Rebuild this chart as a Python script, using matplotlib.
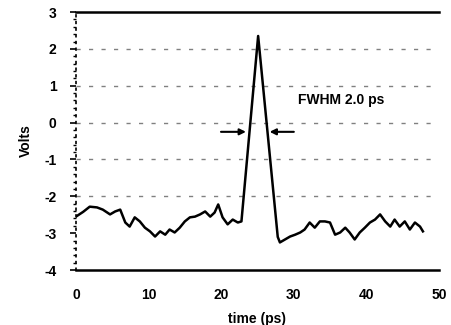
import numpy as np
import matplotlib.pyplot as plt
from matplotlib.ticker import MultipleLocator

# ============================================================================
# DATA
# ============================================================================

time_ps = [0.0, 1.0, 1.9, 2.9, 3.7, 4.7, 5.4, 6.1, 6.8, 7.4, 8.1, 8.8, 9.5,
           10.2, 10.9, 11.6, 12.3, 12.9, 13.6, 14.3, 15.0, 15.7, 16.4, 17.1,
           17.8, 18.5, 19.1, 19.6, 20.2, 20.9, 21.6, 22.3, 22.8, 25.1, 27.8,
           28.1, 28.8, 29.5, 30.2, 30.9, 31.5, 32.2, 32.9, 33.6, 34.3, 35.0,
           35.7, 36.4, 37.1, 37.7, 38.4, 39.1, 39.8, 40.5, 41.2, 41.9, 42.6,
           43.3, 43.9, 44.6, 45.3, 46.0, 46.7, 47.4, 47.8]
volts = [-2.55, -2.42, -2.28, -2.30, -2.36, -2.49, -2.41, -2.36, -2.71, -2.82,
         -2.57, -2.68, -2.85, -2.95, -3.09, -2.95, -3.04, -2.90, -2.98, -2.85,
         -2.68, -2.57, -2.55, -2.49, -2.41, -2.55, -2.44, -2.22, -2.57, -2.76,
         -2.63, -2.71, -2.68, 2.35, -3.10, -3.25, -3.17, -3.09, -3.04, -2.98,
         -2.90, -2.71, -2.85, -2.68, -2.68, -2.71, -3.04, -2.98, -2.85, -2.98,
         -3.17, -2.98, -2.85, -2.71, -2.63, -2.49, -2.68, -2.82, -2.63, -2.82,
         -2.68, -2.90, -2.71, -2.82, -2.95]

grid_levels = [2, 1, 0, -1, -2]
fwhm_level = -0.25
fwhm_left = (19.6, 23.8)
fwhm_right = (30.4, 26.3)

# ============================================================================
# PLOT
# ============================================================================

plt.rcParams['font.family'] = ['Liberation Sans', 'DejaVu Sans']
plt.rcParams['axes.unicode_minus'] = False

fig = plt.figure(figsize=(4.52, 3.25), dpi=100)
ax = fig.add_axes([0.168, 0.169, 0.803, 0.794])

for lvl in grid_levels:
    ax.axhline(lvl, color='0.5', linewidth=1.0, linestyle=(0, (3, 6)), zorder=1)

ax.plot(time_ps, volts, color='black', linewidth=1.8, zorder=3)

# FWHM arrows
arrow_kw = dict(arrowstyle='-|>', color='black', linewidth=1.5, mutation_scale=9)
ax.annotate('', xy=(fwhm_left[1], fwhm_level), xytext=(fwhm_left[0], fwhm_level),
            arrowprops=arrow_kw)
ax.annotate('', xy=(fwhm_right[1], fwhm_level), xytext=(fwhm_right[0], fwhm_level),
            arrowprops=arrow_kw)
ax.text(30.6, 0.6, 'FWHM 2.0 ps', fontsize=10, fontweight='bold', va='center')

ax.set_xlim(0, 50)
ax.set_ylim(-4, 3)
ax.set_xticks([0, 10, 20, 30, 40, 50])
ax.set_yticks([3, 2, 1, 0, -1, -2, -3, -4])
ax.yaxis.set_minor_locator(MultipleLocator(0.2))

ax.tick_params(axis='x', length=0, pad=13, labelsize=10)
ax.tick_params(axis='y', which='major', length=4, width=1.2, pad=10, labelsize=10)
ax.tick_params(axis='y', which='minor', length=2, width=1.0)
for lab in ax.get_xticklabels() + ax.get_yticklabels():
    lab.set_fontweight('bold')

ax.spines['right'].set_visible(False)
ax.spines['top'].set_linewidth(1.8)
ax.spines['bottom'].set_linewidth(1.8)
ax.spines['left'].set_linestyle((0, (1, 3)))
ax.spines['left'].set_linewidth(1.2)

ax.set_xlabel('time (ps)', fontsize=10, fontweight='bold', labelpad=7)
ax.set_ylabel('Volts', fontsize=10, fontweight='bold', labelpad=8)

fig.savefig('out.png', dpi=100)
